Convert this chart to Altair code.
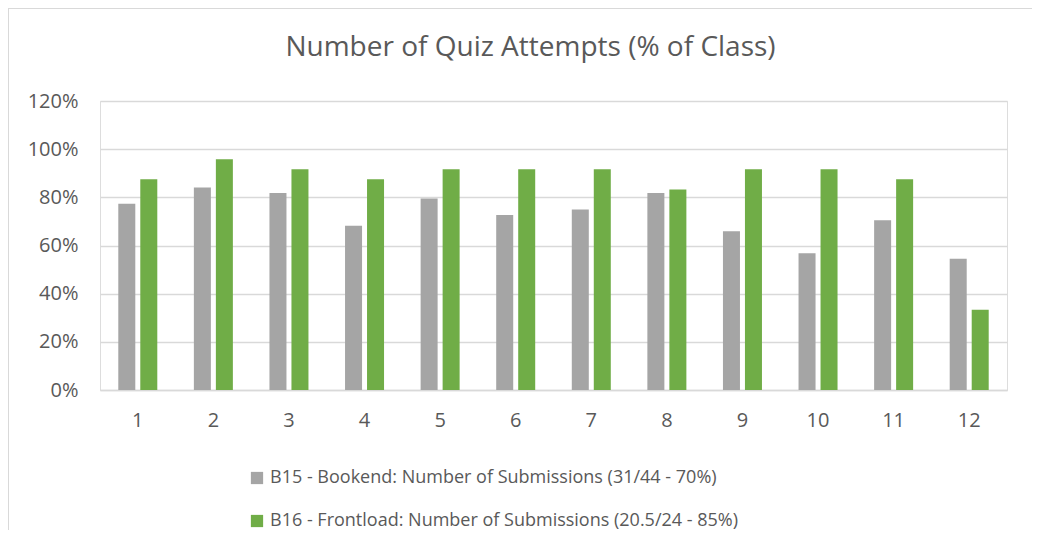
import altair as alt
import pandas as pd

quizzes = [str(i) for i in range(1, 13)]
series_names = [
    "B15 - Bookend: Number of Submissions (31/44 - 70%)",
    "B16 - Frontload: Number of Submissions (20.5/24 - 85%)",
]
b15_values = [0.773, 0.841, 0.818, 0.682, 0.795, 0.727, 0.750, 0.818, 0.659, 0.568, 0.705, 0.545]
b16_values = [0.875, 0.958, 0.917, 0.875, 0.917, 0.917, 0.917, 0.833, 0.917, 0.917, 0.875, 0.333]
colors = ["#A5A5A5", "#70AD47"]
y_ticks = [0, 0.2, 0.4, 0.6, 0.8, 1.0, 1.2]

rows = []
for q, v in zip(quizzes, b15_values):
    rows.append({"quiz": q, "series": series_names[0], "value": v})
for q, v in zip(quizzes, b16_values):
    rows.append({"quiz": q, "series": series_names[1], "value": v})
df = pd.DataFrame(rows)

FONT = "Open Sans"
TXT = "#595959"
W, H = 907, 289

bars = alt.Chart(df).mark_bar().encode(
    x=alt.X("quiz:N", sort=quizzes, title=None,
            scale=alt.Scale(paddingInner=0.484, paddingOuter=0.242),
            axis=alt.Axis(labelAngle=0, ticks=False, domain=True, domainColor="#D9D9D9",
                          domainWidth=1.5, labelFontSize=20, labelColor=TXT, labelFont=FONT,
                          labelPadding=20, grid=False)),
    xOffset=alt.XOffset("series:N", sort=series_names,
                        scale=alt.Scale(paddingInner=0.227, paddingOuter=0)),
    y=alt.Y("value:Q", title=None,
            scale=alt.Scale(domain=[0, 1.2]),
            axis=alt.Axis(values=y_ticks, format=".0%", ticks=False, domain=False,
                          gridColor="#D9D9D9", gridWidth=1.5, labelFontSize=20,
                          labelColor=TXT, labelFont=FONT, labelPadding=22)),
    color=alt.Color("series:N", sort=series_names,
                    scale=alt.Scale(domain=series_names, range=colors),
                    legend=alt.Legend(title=None, orient="none", legendX=148, legendY=368,
                                      direction="vertical", symbolType="square",
                                      symbolSize=150, symbolStrokeWidth=0,
                                      symbolOpacity=1,
                                      labelFontSize=18, labelColor=TXT, labelFont=FONT,
                                      labelLimit=800, rowPadding=25, labelOffset=4)),
)

frame = pd.DataFrame({"k": [0]})
top_line = alt.Chart(frame).mark_rule(color="#D9D9D9", strokeWidth=1).encode(
    x=alt.value(-92), x2=alt.value(W + 30), y=alt.value(-92.5))
left_line = alt.Chart(frame).mark_rule(color="#D9D9D9", strokeWidth=1).encode(
    x=alt.value(-91.5), y=alt.value(-93), y2=alt.value(H + 140))

chart = alt.layer(top_line, left_line, bars).properties(
    width=W, height=H,
    title=alt.TitleParams("Number of Quiz Attempts (% of Class)", font=FONT, fontSize=28,
                          fontWeight="normal", color=TXT, anchor="middle", dx=-23,
                          frame="group", baseline="alphabetic", offset=-76),
    autosize=alt.AutoSizeParams(type="none"),
    padding={"left": 92, "top": 93, "right": 25, "bottom": 140},
).configure_view(stroke=None).configure(background="white")

chart.save("out.html", embed_options={"renderer": "svg", "actions": False})
